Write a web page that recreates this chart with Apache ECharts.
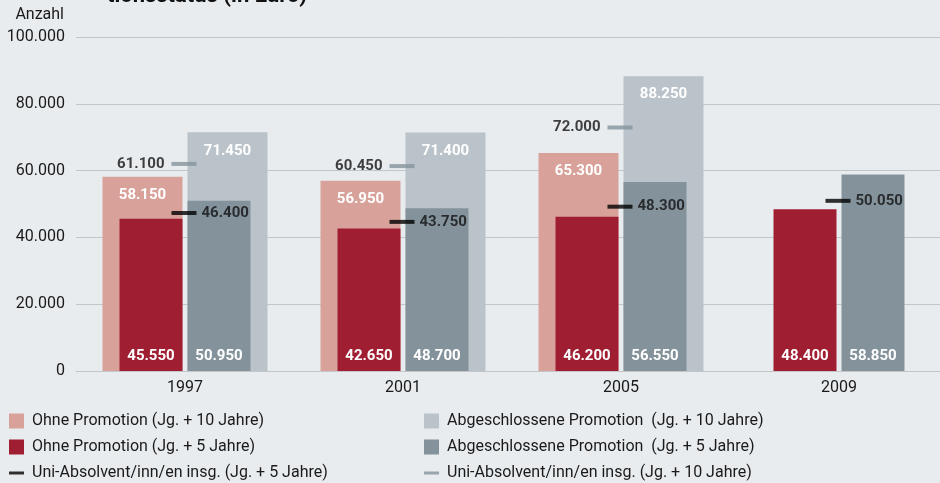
<!DOCTYPE html>
<html>
<head>
<meta charset="utf-8">
<script src="https://cdn.jsdelivr.net/npm/echarts@6/dist/echarts.min.js"></script>
<style>
html,body{margin:0;padding:0;background:#e8ecef;}
#c{width:940px;height:483px;}
</style>
</head>
<body>
<div id="c"></div>
<script>
var years = ['1997', '2001', '2005', '2009'];
var ohne10 = [58150, 56950, 65300, null];
var ohne5 = [45550, 42650, 46200, 48400];
var abg10 = [71450, 71400, 88250, null];
var abg5 = [50950, 48700, 56550, 58850];
var uni5 = [46400, 43750, 48300, 50050];
var uni10 = [61100, 60450, 72000, null];
var yTicks = [0, 20000, 40000, 60000, 80000, 100000];

var names = {
  ohne10: 'Ohne Promotion (Jg. + 10 Jahre)',
  ohne5: 'Ohne Promotion (Jg. + 5 Jahre)',
  uni5: 'Uni-Absolvent/inn/en insg. (Jg. + 5 Jahre)',
  abg10: 'Abgeschlossene Promotion  (Jg. + 10 Jahre)',
  abg5: 'Abgeschlossene Promotion  (Jg. + 5 Jahre)',
  uni10: 'Uni-Absolvent/inn/en insg. (Jg. + 10 Jahre)'
};

var BG = '#e8ecef';
var FONT = 'Roboto';
function fmt(v) {
  return String(v).replace(/\B(?=(\d{3})+(?!\d))/g, '.');
}
var dashIcon = 'path://M0,0 M0,6 L15,6 L15,9 L0,9 Z M15,15';

var chart = echarts.init(document.getElementById('c'), null, {renderer: 'canvas'});
var inLabelTop = {show: true, position: 'insideTop', distance: 11, color: '#fff', fontFamily: FONT, fontWeight: 'bold', fontSize: 15, formatter: function (p) { return fmt(p.value); }};
var inLabelBottom = {show: true, position: 'insideBottom', distance: 7, color: '#fff', fontFamily: FONT, fontWeight: 'bold', fontSize: 15, formatter: function (p) { return fmt(p.value); }};

var legendCommon = {
  orient: 'vertical', top: 413, height: 75, padding: 0,
  itemWidth: 15, itemHeight: 15, itemGap: 10,
  textStyle: {fontFamily: FONT, fontSize: 16, color: '#1a1a1a', padding: [0, 0, 0, 3]}
};

chart.setOption({
  backgroundColor: BG,
  animation: false,
  textStyle: {fontFamily: FONT},
  title: {
    text: 'tionsstatus (in Euro)',
    left: 107, top: -15, padding: 0,
    textStyle: {fontFamily: FONT, fontWeight: 'bold', fontSize: 22, color: '#111'}
  },
  grid: {left: 76, top: 37, width: 872, height: 334, containLabel: false, outerBoundsMode: 'none'},
  legend: [Object.assign({}, legendCommon, {
    left: 9,
    data: [
      {name: names.ohne10, icon: 'rect'},
      {name: names.ohne5, icon: 'rect'},
      {name: names.uni5, icon: dashIcon}
    ]
  }), Object.assign({}, legendCommon, {
    left: 424,
    data: [
      {name: names.abg10, icon: 'rect'},
      {name: names.abg5, icon: 'rect'},
      {name: names.uni10, icon: dashIcon}
    ]
  })],
  xAxis: [{
    type: 'category', data: years, gridIndex: 0,
    axisLine: {show: true, lineStyle: {color: '#c2c6c9', width: 1}},
    axisTick: {show: false},
    axisLabel: {fontFamily: FONT, fontSize: 16, color: '#1a1a1a', margin: 9}
  }, {
    type: 'category', data: years, gridIndex: 0, show: false
  }],
  yAxis: {
    type: 'value', min: 0, max: 100000, interval: 20000,
    name: 'Anzahl', nameLocation: 'end', nameGap: 14,
    nameTextStyle: {fontFamily: FONT, fontSize: 16, color: '#1a1a1a', align: 'right', padding: [0, 12, 0, 0]},
    axisLine: {show: false}, axisTick: {show: false},
    axisLabel: {fontFamily: FONT, fontSize: 16, color: '#1a1a1a', margin: 11, formatter: function (v) { return yTicks.indexOf(v) >= 0 ? fmt(v) : ''; }},
    splitLine: {lineStyle: {color: '#c2c6c9', width: 1}}
  },
  series: [{
    name: names.ohne10, type: 'bar', xAxisIndex: 0, data: ohne10,
    barWidth: 80, barGap: '6.25%', itemStyle: {color: '#d8a29a'}, label: inLabelTop
  }, {
    name: names.abg10, type: 'bar', xAxisIndex: 0, data: abg10,
    barWidth: 80, barGap: '6.25%', itemStyle: {color: '#bac3c9'}, label: inLabelTop
  }, {
    name: names.ohne5, type: 'bar', xAxisIndex: 1, data: ohne5,
    barWidth: 63, barGap: '7.94%', itemStyle: {color: '#a01e31'}, label: inLabelBottom
  }, {
    name: names.abg5, type: 'bar', xAxisIndex: 1, data: abg5,
    barWidth: 63, barGap: '7.94%', itemStyle: {color: '#84939b'}, label: inLabelBottom
  }, {
    name: names.uni10, type: 'scatter', xAxisIndex: 0, data: uni10,
    symbol: 'rect', symbolSize: [25, 4], symbolOffset: [-1, -3],
    itemStyle: {color: '#84939b'}, z: 5,
    label: {show: true, position: 'left', distance: 5, color: '#111', fontFamily: FONT, fontWeight: 'bold', fontSize: 15,
      padding: [2, 2, 2, 4],
      formatter: function (p) { return fmt(p.value); }}
  }, {
    name: names.uni5, type: 'scatter', xAxisIndex: 0, data: uni5,
    symbol: 'rect', symbolSize: [25, 4], symbolOffset: [-1, -3],
    itemStyle: {color: '#000'}, z: 5,
    label: {show: true, position: 'right', distance: 5, color: '#111', fontFamily: FONT, fontWeight: 'bold', fontSize: 15,
      formatter: function (p) { return fmt(p.value); }}
  }]
});
</script>
</body>
</html>
